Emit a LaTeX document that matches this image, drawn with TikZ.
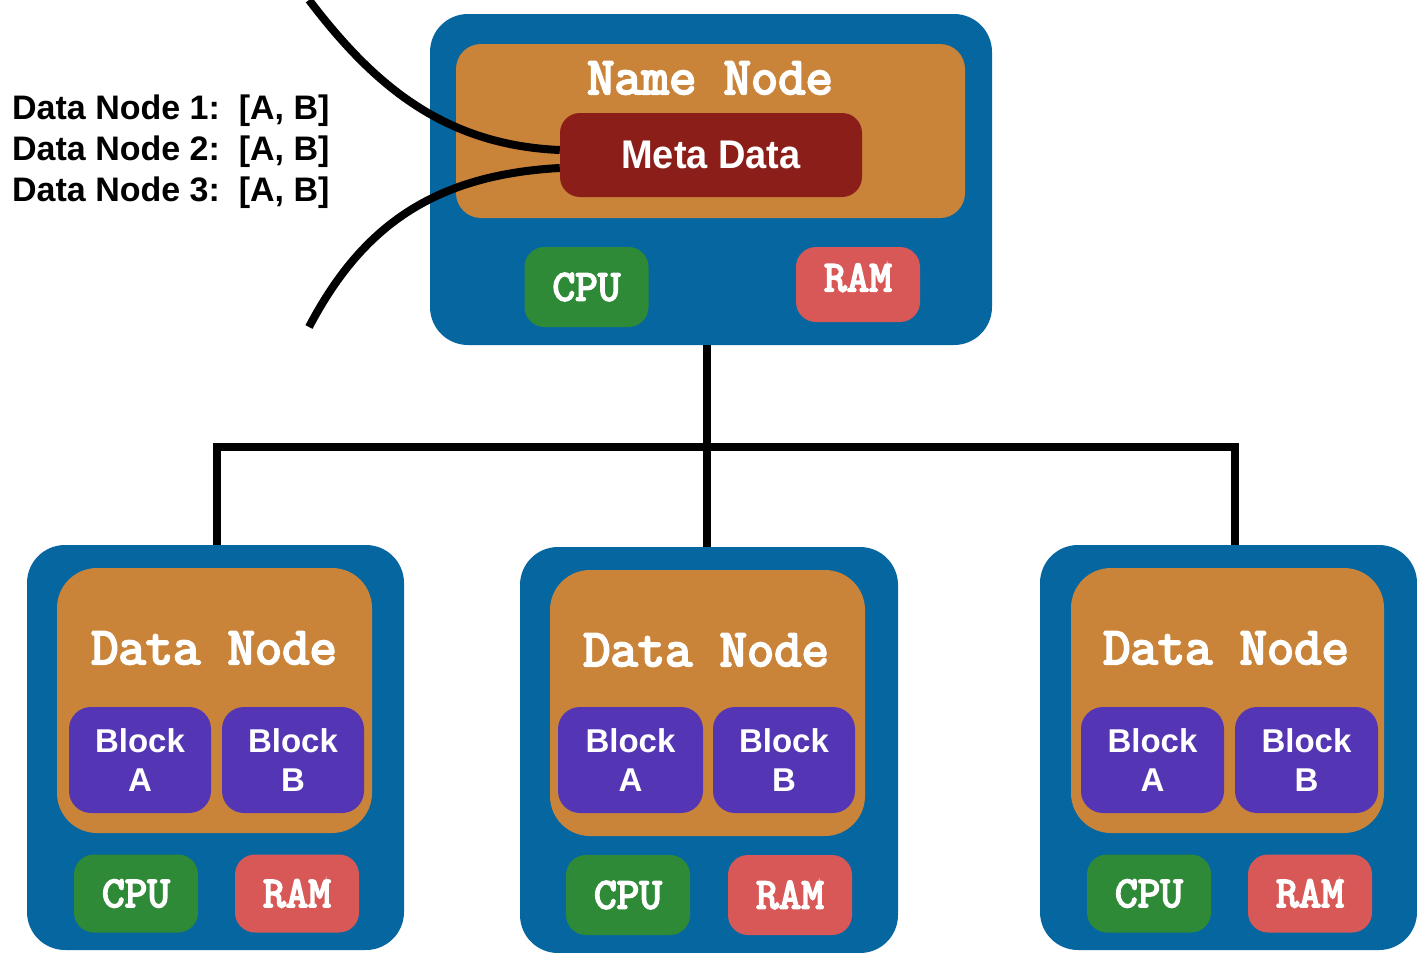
\documentclass[tikz,border=0pt]{standalone}
\usepackage{fontspec}
\setmainfont{Liberation Sans}
\newfontfamily\typewriter{Latin Modern Mono}[FakeBold=4]
\definecolor{serverblue}{RGB}{6,102,160}
\definecolor{nodeorange}{RGB}{201,132,58}
\definecolor{metared}{RGB}{140,30,26}
\definecolor{blockpurple}{RGB}{84,54,180}
\definecolor{cpugreen}{RGB}{46,138,54}
\definecolor{ramred}{RGB}{216,88,88}

\tikzstyle{every node}=[inner sep=0pt]

\begin{document}
\begin{tikzpicture}[x=1pt, y=-1pt,
server/.style={fill=serverblue, rounded corners=38pt},
store/.style={fill=nodeorange, rounded corners=40pt},
title/.style={text=white, font=\typewriter\fontsize{53}{53}\selectfont},
part/.style={text=white, font=\typewriter\fontsize{44}{44}\selectfont,
             minimum width=124pt, minimum height=78pt, rounded corners=20pt},
cpu/.style={part, fill=cpugreen},
ram/.style={part, fill=ramred},
block/.style={fill=blockpurple, text=white, rounded corners=22pt, align=center,
              minimum width=142pt, minimum height=106pt,
              font=\bfseries\fontsize{33}{39}\selectfont},
wire/.style={line width=8pt}]
\useasboundingbox (0,0) rectangle (1417,953);

% name node
\node[server, minimum width=562pt, minimum height=331pt] (name) at (711,179.5) {};
\node[store, rounded corners=25pt, minimum width=509pt, minimum height=174pt] (namestore) at (710.5,131) {};
\node[title] (nametitle) at (710,78) {Name~Node};
\node[fill=metared, rounded corners=20pt, minimum width=302pt, minimum height=84pt,
      text=white, font=\bfseries\fontsize{40}{40}\selectfont] (meta) at (711,155) {\scalebox{0.95}[1]{Meta Data}};
\node[cpu, minimum height=80pt] (namecpu) at (586.5,287) {CPU};
\node[ram, minimum height=75pt, text depth=14pt] (nameram) at (858,284.5) {RAM};

% meta data list
\node[anchor=west, align=left, font=\bfseries\fontsize{34}{41}\selectfont] (list) at (12,152)
  {Data Node 1:~~[A, B]\\Data Node 2:~~[A, B]\\Data Node 3:~~[A, B]};
\coordinate (listtop) at (309,0);
\coordinate (listbottom) at (309,327);
\draw[wire] (listtop) .. controls (370,80) and (440,145) .. ([yshift=5pt]meta.west);
\draw[wire] (listbottom) .. controls (360,230) and (430,175) .. ([yshift=-13pt]meta.west);

% data node 1
\node[server, minimum width=377pt, minimum height=405pt] (data1) at (215.5,747.5) {};
\node[store, minimum width=315pt, minimum height=265pt] (store1) at (214.5,700.5) {};
\node[title] (title1) at (214,648) {Data~Node};
\node[block] (blockA1) at (140,760) {Block\\A};
\node[block] (blockB1) at (293,760) {Block\\B};
\node[cpu] (cpu1) at (136,893.5) {CPU};
\node[ram] (ram1) at (297,893.5) {RAM};

% data node 2
\node[server, minimum width=378pt, minimum height=406pt] (data2) at (709,750) {};
\node[store, minimum width=315pt, minimum height=266pt] (store2) at (707.5,703) {};
\node[title] (title2) at (706,650) {Data~Node};
\node[block, minimum width=145pt] (blockA2) at (630.5,760) {Block\\A};
\node[block] (blockB2) at (784,760) {Block\\B};
\node[cpu, minimum height=80pt] (cpu2) at (628,895) {CPU};
\node[ram, minimum height=80pt] (ram2) at (790,895) {RAM};

% data node 3
\node[server, minimum width=377pt, minimum height=405pt] (data3) at (1228.5,747.5) {};
\node[store, minimum width=313pt, minimum height=265pt] (store3) at (1227.5,700.5) {};
\node[title] (title3) at (1226,648) {Data~Node};
\node[block, minimum width=143pt] (blockA3) at (1152.5,760) {Block\\A};
\node[block, minimum width=143pt] (blockB3) at (1306.5,760) {Block\\B};
\node[cpu] (cpu3) at (1149,893.5) {CPU};
\node[ram] (ram3) at (1310,893.5) {RAM};

% tree connectors
\coordinate (bus) at (707,447);
\draw[wire] (name.south -| bus) -- (bus) -- (bus |- data2.north);
\draw[wire] ([xshift=1pt]data1.north) |- (bus) -| ([xshift=6pt]data3.north);
\end{tikzpicture}
\end{document}
